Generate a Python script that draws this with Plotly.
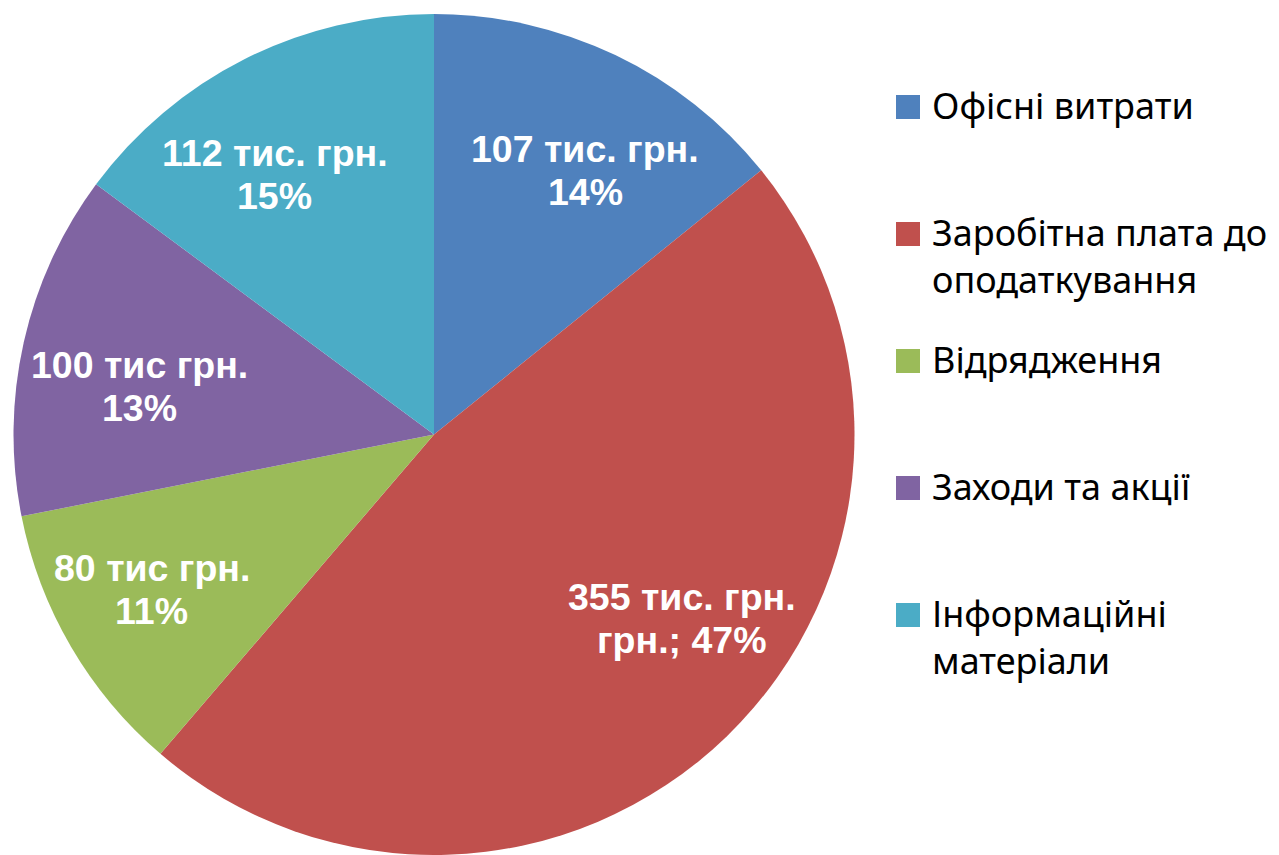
import math
import plotly.graph_objects as go

# ---- data ----
CATEGORIES = ["Офісні витрати", "Заробітна плата до оподаткування", "Відрядження",
              "Заходи та акції", "Інформаційні матеріали"]
LEGEND_LABELS = ["Офісні витрати", "Заробітна плата до<br>оподаткування", "Відрядження",
                 "Заходи та акції", "Інформаційні<br>матеріали"]
VALUES = [107, 355, 80, 100, 112]
LABEL_UNITS = ["тис. грн.", "тис. грн.", "тис грн.", "тис грн.", "тис. грн."]
PCT_PREFIX = ["", "грн.; ", "", "", ""]
COLORS = ["#4F81BD", "#C0504D", "#9BBB59", "#8064A2", "#4BACC6"]

# ---- layout / style constants (page pixels) ----
PAGE_W, PAGE_H = 1279, 855
OFF = 8                      # default body margin of the html page
W, H = PAGE_W - OFF, PAGE_H - OFF
PIE_X0, PIE_X1 = 11, 857
PIE_Y_TOP = 14
LABEL_RADIUS = [0.724, 0.735, 0.766, 0.709, 0.726]     # Excel "best fit" style placement
LABEL_ANGLE_SHIFT = [4.2, -9.3, 1.5, -3.3, -4.7]        # degrees
LABEL_FONT = 37.5
LABEL_PITCH = 43
LEG_SW_X0, LEG_SW = 896, 24
LEG_TEXT_X = 930
LEG_FIRST_Y, LEG_STEP = 107, 127
LEG_FONT = 36


def xp(p):
    return (p - OFF) / W


def yp(p):
    return 1 - (p - OFF) / H


fig = go.Figure()
fig.add_trace(go.Pie(
    labels=CATEGORIES, values=VALUES, sort=False, direction="clockwise", rotation=0,
    marker=dict(colors=COLORS, line=dict(width=0)),
    textinfo="none", showlegend=False,
    domain=dict(x=[xp(PIE_X0), xp(PIE_X1)], y=[0, yp(PIE_Y_TOP)]),
))

# pie geometry (page pixels) for data-derived label placement
r = min(PIE_X1 - PIE_X0, PAGE_H - PIE_Y_TOP) / 2
cx = (PIE_X0 + PIE_X1) / 2
cy = PAGE_H - r
total = sum(VALUES)
annotations = []
shapes = []
cum = 0
label_font = dict(family="Liberation Sans, Arial", size=LABEL_FONT, color="white", weight="bold")
for i, v in enumerate(VALUES):
    frac = v / total
    mid = (cum + frac / 2) * 2 * math.pi + math.radians(LABEL_ANGLE_SHIFT[i])
    cum += frac
    px = cx + LABEL_RADIUS[i] * r * math.sin(mid)
    py = cy - LABEL_RADIUS[i] * r * math.cos(mid)
    pct = round(frac * 100)
    lines = [f"{v} {LABEL_UNITS[i]}", f"{PCT_PREFIX[i]}{pct}%"]
    for j, line in enumerate(lines):
        ly = py + (j - 0.5) * LABEL_PITCH
        annotations.append(dict(
            x=xp(px), y=yp(ly), xref="paper", yref="paper", text=line, showarrow=False,
            xanchor="center", yanchor="middle", align="center", font=label_font,
        ))

# custom legend (large square swatches, evenly spaced slots)
for i, lab in enumerate(LEGEND_LABELS):
    yc = LEG_FIRST_Y + i * LEG_STEP
    shapes.append(dict(
        type="rect", xref="paper", yref="paper",
        x0=xp(LEG_SW_X0), x1=xp(LEG_SW_X0 + LEG_SW),
        y0=yp(yc + LEG_SW / 2), y1=yp(yc - LEG_SW / 2),
        fillcolor=COLORS[i], line=dict(width=0),
    ))
    annotations.append(dict(
        x=xp(LEG_TEXT_X), y=yp(yc - 0.78 * LEG_FONT), xref="paper", yref="paper",
        text=lab, showarrow=False, xanchor="left", yanchor="top", align="left",
        font=dict(family="Noto Sans", size=LEG_FONT, color="black"),
    ))

fig.update_layout(
    width=W, height=H, margin=dict(l=0, r=0, t=0, b=0),
    paper_bgcolor="white", plot_bgcolor="white",
    annotations=annotations, shapes=shapes, showlegend=False,
)
fig.write_html("out.html")
